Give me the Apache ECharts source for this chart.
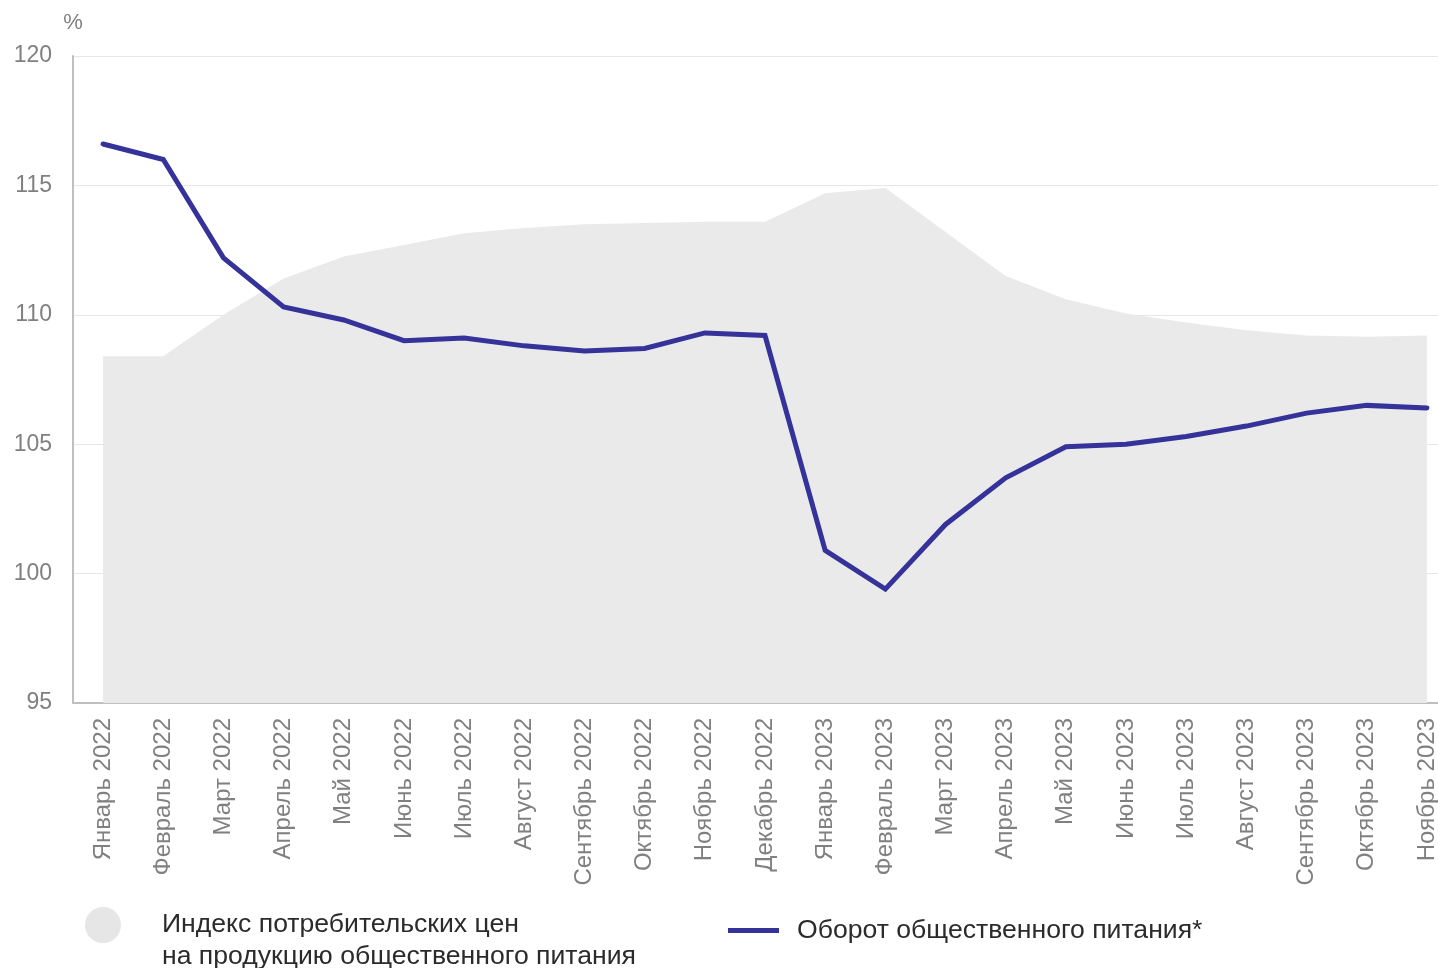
<!DOCTYPE html>
<html>
<head>
<meta charset="utf-8">
<script src="https://cdn.jsdelivr.net/npm/echarts@6/dist/echarts.min.js"></script>
<style>html,body{margin:0;padding:0;background:#fff;overflow:hidden;width:1438px;height:968px}#c{width:1457px;height:968px}</style>
</head>
<body>
<div id="c"></div>
<script>
const categories = ['Январь 2022','Февраль 2022','Март 2022','Апрель 2022','Май 2022','Июнь 2022','Июль 2022','Август 2022','Сентябрь 2022','Октябрь 2022','Ноябрь 2022','Декабрь 2022','Январь 2023','Февраль 2023','Март 2023','Апрель 2023','Май 2023','Июнь 2023','Июль 2023','Август 2023','Сентябрь 2023','Октябрь 2023','Ноябрь 2023'];
const cpiName = 'Индекс потребительских цен\nна продукцию общественного питания';
const cpiValues = [108.4,108.4,110.0,111.4,112.25,112.7,113.15,113.35,113.5,113.55,113.6,113.6,114.7,114.9,113.2,111.5,110.6,110.05,109.7,109.4,109.2,109.15,109.2];
const turnoverName = 'Оборот общественного питания*';
const turnoverValues = [116.6,116.0,112.2,110.3,109.8,109.0,109.1,108.8,108.6,108.7,109.3,109.2,100.9,99.4,101.9,103.7,104.9,105.0,105.3,105.7,106.2,106.5,106.4];
const yTicks = {min:95, max:120, interval:5};

const chart = echarts.init(document.getElementById('c'), null, {renderer:'canvas'});
const FONT = '"Liberation Sans", Arial, sans-serif';
chart.setOption({
  animation:false,
  backgroundColor:'#ffffff',
  grid:{left:73, right:0, top:56, bottom:265, containLabel:false},
  legend:[
    {left:85, top:877, padding:0, orient:'horizontal', itemWidth:36, itemHeight:36,
     data:[{name:cpiName, icon:'circle', itemStyle:{color:'#e6e6e6'}}],
     formatter: n => ' \n' + n,
     textStyle:{fontFamily:FONT, fontSize:26.6, color:'#2b2b2b', lineHeight:32, padding:[0,0,0,36]},
     selectedMode:false},
    {left:728, top:917, padding:0, orient:'horizontal', itemWidth:51, itemHeight:5,
     data:[{name:turnoverName, icon:'rect', itemStyle:{color:'#35339a'}}],
     textStyle:{fontFamily:FONT, fontSize:26.6, color:'#2b2b2b', padding:[0,0,0,13]},
     selectedMode:false}
  ],
  xAxis:{
    type:'category', data:categories, boundaryGap:true,
    axisLine:{show:true, lineStyle:{color:'#bfbfbf', width:2}},
    axisTick:{show:false},
    axisLabel:{rotate:90, interval:0, margin:15, fontFamily:FONT, fontSize:24, color:'#808080'},
    splitLine:{show:false}
  },
  yAxis:{
    type:'value', min:yTicks.min, max:yTicks.max, interval:yTicks.interval,
    name:'%', nameLocation:'end', nameGap:22,
    nameTextStyle:{fontFamily:FONT, fontSize:22, color:'#808080', align:'center'},
    axisLine:{show:true, lineStyle:{color:'#bfbfbf', width:2}},
    axisTick:{show:false},
    axisLabel:{margin:21, fontFamily:FONT, fontSize:23, color:'#808080'},
    splitLine:{show:true, lineStyle:{color:'#e6e6e6', width:1}}
  },
  series:[
    {name:cpiName, type:'line', data:cpiValues, symbol:'none',
     lineStyle:{width:0, color:'#eaeaea'}, itemStyle:{color:'#e6e6e6'},
     areaStyle:{color:'#eaeaea', opacity:1, origin:'start'}, z:1},
    {name:turnoverName, type:'line', data:turnoverValues, symbol:'none',
     lineStyle:{width:5, color:'#35339a', join:'miter', cap:'round'}, itemStyle:{color:'#35339a'}, z:3}
  ]
});
</script>
</body>
</html>
